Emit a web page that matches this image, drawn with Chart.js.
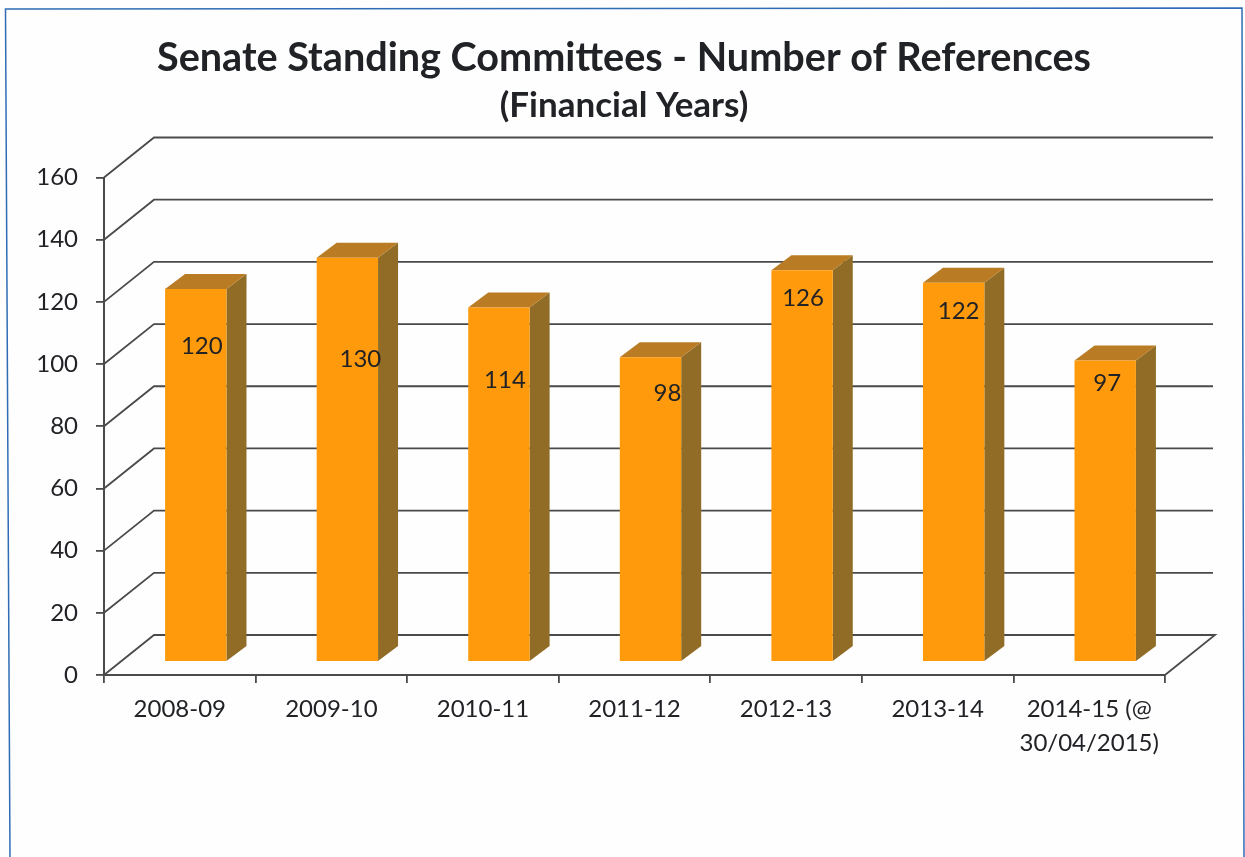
<!DOCTYPE html>
<html>
<head>
<meta charset="utf-8">
<title>Senate Standing Committees</title>
<script src="https://cdn.jsdelivr.net/npm/chart.js@4"></script>
<style>
  html, body { margin: 0; padding: 0; background: #fefefe; }
  canvas { display: block; }
</style>
</head>
<body>
<canvas id="refs-chart" width="1245" height="857"></canvas>
<script>
var years = ["2008-09", "2009-10", "2010-11", "2011-12", "2012-13", "2013-14", ["2014-15 (@", "30/04/2015)"]];
var references = [120, 130, 114, 98, 126, 122, 97];
var yTicks = [0, 20, 40, 60, 80, 100, 120, 140, 160];

// the fake 3D look, in pixels
var wall = {dx: 50, dy: -40};
var barShift = {dx: 16, dy: -13};
var barDepth = {dx: 20, dy: -15};
// the value labels sit by hand in the original, offset from the bar's top centre
var labelNudgeX = [6, 13, 6, 17, 1, 5, 2];
var labelNudgeY = [57, 101, 73, 36, 28, 29, 23];

var lineColor = "#4a4a4a";
var textColor = "#202226";
var fontName = "Lato, Carlito, 'Open Sans', sans-serif";

function poly(ctx, pts, fill) {
    ctx.beginPath();
    ctx.moveTo(pts[0][0], pts[0][1]);
    for (var i = 1; i < pts.length; i++) ctx.lineTo(pts[i][0], pts[i][1]);
    ctx.closePath();
    ctx.fillStyle = fill;
    ctx.fill();
}

var page = {
    id: "page",
    beforeDraw: function(chart) {
        var ctx = chart.ctx;
        ctx.save();
        ctx.fillStyle = "#fefefe";
        ctx.fillRect(0, 0, chart.width, chart.height);
        // scanned page frame, slightly skewed
        ctx.strokeStyle = "#2f6cb5";
        ctx.lineWidth = 1.5;
        ctx.beginPath();
        ctx.moveTo(10, 857);
        ctx.lineTo(5.5, 9);
        ctx.lineTo(1242, 8);
        ctx.lineTo(1244, 857);
        ctx.stroke();
        ctx.restore();
    }
};

var box3d = {
    id: "box3d",
    beforeDatasetsDraw: function(chart) {
        var ctx = chart.ctx;
        var x = chart.scales.x, y = chart.scales.y;
        ctx.save();
        ctx.strokeStyle = lineColor;
        ctx.lineWidth = 1.8;
        yTicks.forEach(function(v) {
            var py = y.getPixelForValue(v);
            ctx.beginPath();
            ctx.moveTo(x.left, py);
            ctx.lineTo(x.left + wall.dx, py + wall.dy);
            ctx.lineTo(x.right + wall.dx - (v == 0 ? 0 : 2), py + wall.dy);
            if (v == 0) ctx.lineTo(x.right, py);
            ctx.stroke();
        });
        ctx.restore();

        ctx.save();
        ctx.translate(barShift.dx, barShift.dy);
        chart.getDatasetMeta(0).data.forEach(function(bar) {
            var l = bar.x - bar.width / 2, r = bar.x + bar.width / 2;
            var d = barDepth;
            poly(ctx, [[r, bar.y], [r + d.dx, bar.y + d.dy], [r + d.dx, bar.base + d.dy], [r, bar.base]], "#906c26");
            poly(ctx, [[l, bar.y], [l + d.dx, bar.y + d.dy], [r + d.dx, bar.y + d.dy], [r, bar.y]], "#b97c24");
        });
    },
    afterDatasetsDraw: function(chart) {
        var ctx = chart.ctx;
        ctx.restore();
        ctx.save();
        ctx.font = "24px " + fontName;
        ctx.fillStyle = textColor;
        ctx.textAlign = "center";
        ctx.textBaseline = "middle";
        chart.getDatasetMeta(0).data.forEach(function(bar, i) {
            ctx.fillText(references[i], bar.x + barShift.dx + labelNudgeX[i], bar.y + barShift.dy + labelNudgeY[i]);
        });
        ctx.restore();
    }
};

new Chart(document.getElementById("refs-chart").getContext("2d"), {
    type: "bar",
    data: {
        labels: years,
        datasets: [{
            label: "Number of References",
            data: references,
            backgroundColor: "#ff9a0c",
            borderWidth: 0,
            barPercentage: 0.405,
            categoryPercentage: 1,
            clip: false
        }]
    },
    options: {
        responsive: false,
        animation: false,
        layout: {padding: {left: 3, right: 0, top: 0, bottom: 0}},
        plugins: {
            legend: {display: false},
            tooltip: {enabled: false},
            title: {
                display: true,
                text: "Senate Standing Committees - Number of References",
                color: textColor,
                font: {family: fontName, size: 39.6, weight: "bold"},
                padding: {top: 34, bottom: 3}
            },
            subtitle: {
                display: true,
                text: "(Financial Years)",
                color: textColor,
                font: {family: fontName, size: 35, weight: "bold"},
                padding: {top: 0, bottom: 51}
            }
        },
        scales: {
            x: {
                afterFit: function(s) { s.height = 182; },
                border: {display: true, color: lineColor, width: 2},
                grid: {drawOnChartArea: false, drawTicks: true, tickLength: 8, color: lineColor, lineWidth: 1.8},
                ticks: {
                    color: textColor,
                    font: {family: fontName, size: 24, lineHeight: 1.42},
                    maxRotation: 0,
                    autoSkip: false,
                    padding: 9
                }
            },
            y: {
                min: 0,
                max: 160,
                afterFit: function(s) { s.width = 101; },
                afterBuildTicks: function(s) { s.ticks = yTicks.map(function(v) { return {value: v}; }); },
                border: {display: true, color: lineColor, width: 2},
                grid: {drawOnChartArea: false, drawTicks: true, tickLength: 8, color: lineColor, lineWidth: 1.8},
                ticks: {
                    color: textColor,
                    font: {family: fontName, size: 24},
                    padding: 18
                }
            },
            // empty axis, only keeps the plot clear of the right edge so the titles stay centred on the page
            spacer: {
                axis: "y",
                position: "right",
                afterFit: function(s) { s.width = 80; },
                border: {display: false},
                grid: {display: false},
                ticks: {display: false}
            }
        }
    },
    plugins: [page, box3d]
});
</script>
</body>
</html>
